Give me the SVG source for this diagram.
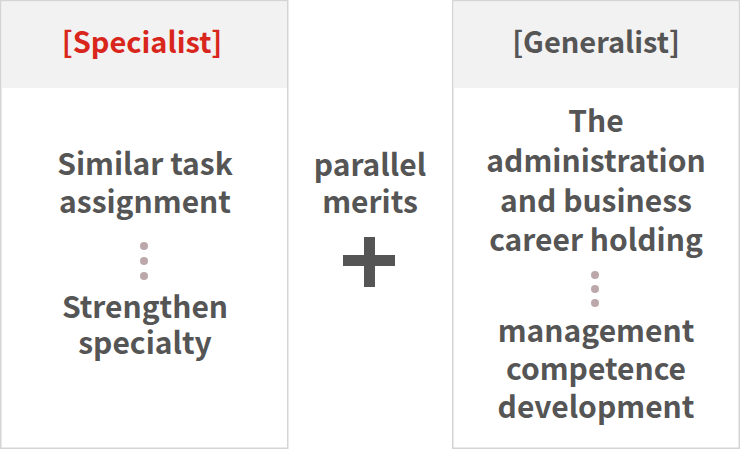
<svg xmlns="http://www.w3.org/2000/svg" width="740" height="450" viewBox="0 0 740 450">
<style>
.panel{fill:#fff;stroke:#d4d4d4;stroke-width:1.5}
.head{fill:#f2f2f2}
.t{font-family:"Noto Sans CJK KR","Noto Sans",sans-serif;font-weight:700;font-size:30px;fill:#555;text-anchor:middle}
.h{font-size:29px}
.dot{fill:#bca8ab}
</style>
<g id="specialist">
<rect class="panel" x="0.75" y="0.75" width="287" height="447.5"/>
<rect class="head" x="1.5" y="1.5" width="285.5" height="86.5"/>
<text class="t h" x="142" y="53" style="fill:#d9261c">[Specialist]</text>
<text class="t" x="145" y="175">Similar task<tspan x="145" dy="38">assignment</tspan></text>
<circle class="dot" cx="144" cy="246" r="4"/>
<circle class="dot" cx="144" cy="261" r="4"/>
<circle class="dot" cx="144" cy="276" r="4"/>
<text class="t" x="145" y="318">Strengthen<tspan x="145" dy="36">specialty</tspan></text>
</g>
<g id="merits">
<text class="t" x="370" y="176">parallel<tspan x="370" dy="37">merits</tspan></text>
<rect x="343" y="255" width="52" height="11" fill="#555"/>
<rect x="364" y="237" width="11" height="50" fill="#555"/>
</g>
<g id="generalist">
<rect class="panel" x="452.75" y="0.75" width="286.5" height="447.5"/>
<rect class="head" x="453.5" y="1.5" width="285" height="86.5"/>
<text class="t h" x="596" y="53">[Generalist]</text>
<text class="t" x="596" y="132">The<tspan x="596" dy="40">administration</tspan><tspan x="596" dy="40">and business</tspan><tspan x="596" dy="39">career holding</tspan></text>
<circle class="dot" cx="595" cy="275" r="4"/>
<circle class="dot" cx="595" cy="289" r="4"/>
<circle class="dot" cx="595" cy="303" r="4"/>
<text class="t" x="596" y="342">management<tspan x="596" dy="38">competence</tspan><tspan x="596" dy="38">development</tspan></text>
</g>
<g id="connectors"/>
</svg>
